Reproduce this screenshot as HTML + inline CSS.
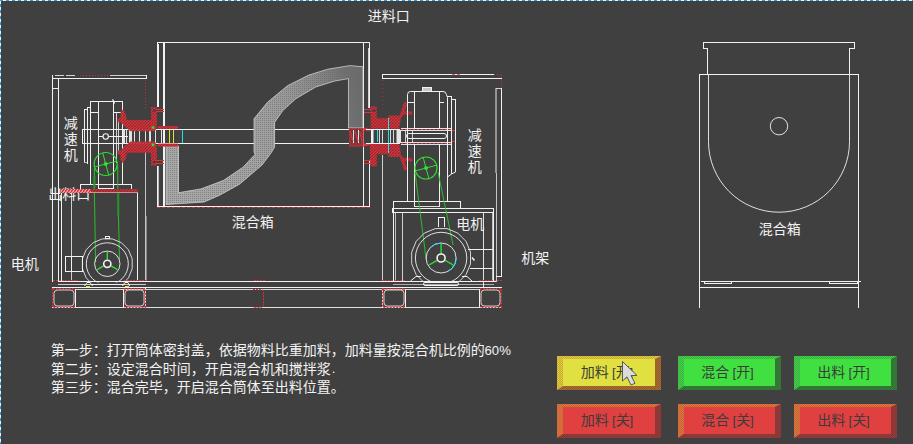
<!DOCTYPE html>
<html><head><meta charset="utf-8"><title>mixer</title>
<style>html,body{margin:0;padding:0;background:#404040;overflow:hidden;font-family:"Liberation Sans",sans-serif}svg{display:block}</style>
</head><body>
<svg width="913" height="444" viewBox="0 0 913 444">
<defs>
<clipPath id="mclip"><rect x="0" y="0" width="913" height="282.5"/></clipPath>
<pattern id="dot" width="2" height="2" patternUnits="userSpaceOnUse"><rect width="1" height="1" fill="#686868"/></pattern>
<pattern id="dot2" width="2" height="2" patternUnits="userSpaceOnUse"><rect width="2" height="2" fill="#909090"/><rect width="1" height="1" fill="#6c6c6c"/><rect x="1" y="1" width="1" height="1" fill="#6c6c6c"/></pattern>
<linearGradient id="bladeg" gradientUnits="userSpaceOnUse" x1="160" y1="150" x2="365" y2="110"><stop offset="0" stop-color="#a8a8a8"/><stop offset="0.45" stop-color="#a2a2a2"/><stop offset="0.63" stop-color="#9a9a9a"/><stop offset="0.78" stop-color="#8a8a8a"/><stop offset="0.88" stop-color="#7a7a7a"/><stop offset="0.94" stop-color="#707070"/><stop offset="1" stop-color="#6c6c6c"/></linearGradient>
<pattern id="chk" width="2" height="2" patternUnits="userSpaceOnUse"><rect width="1" height="1" fill="#202020"/><rect x="1" y="1" width="1" height="1" fill="#202020"/></pattern>
<pattern id="rw2" width="3" height="4" patternUnits="userSpaceOnUse"><rect width="3" height="4" fill="#583838"/><path d="M-1 4L2 0M2 4L5 0" stroke="#e02830" stroke-width="1.5"/></pattern>
<pattern id="rw" width="3" height="4" patternUnits="userSpaceOnUse"><rect width="3" height="4" fill="#f0e0e0"/><path d="M-1 4L2 0M2 4L5 0" stroke="#e02830" stroke-width="1.7"/></pattern>
<pattern id="rh" width="3" height="3" patternUnits="userSpaceOnUse"><rect width="3" height="3" fill="#dc3038"/><path d="M0 3L3 0" stroke="#7a2a30" stroke-width="0.8"/><path d="M0 0L3 3" stroke="#7a2a30" stroke-width="0.5" stroke-opacity="0.5"/></pattern>
</defs>
<rect width="913" height="444" fill="#404040"/>
<path d="M0 0.5H913" stroke="#f6f0e8" stroke-width="1"/><path d="M0 0.5H913" stroke="#20a0e8" stroke-width="1" stroke-dasharray="3 3"/>
<path d="M0.5 1V444" stroke="#f6f0e8" stroke-width="1"/><path d="M0.5 4V444" stroke="#20a0e8" stroke-width="1" stroke-dasharray="3 3"/>
<g fill="none" shape-rendering="crispEdges">
<path d="M52.5 75V282" stroke="#f2f2f2" stroke-width="1"/>
<path d="M58.5 78V282" stroke="#f2f2f2" stroke-width="1"/>
<path d="M52 78.5H147" stroke="#f2f2f2" stroke-width="1"/>
<path d="M146.5 75V79" stroke="#f2f2f2" stroke-width="1"/>
<path d="M55 75.5H75" stroke="#f2f2f2" stroke-width="1" stroke-opacity="0.85" stroke-dasharray="9 2"/>
<path d="M110 75.5H147" stroke="#f2f2f2" stroke-width="1" stroke-opacity="0.8"/>
<path d="M80 75.5H110" stroke="#e03038" stroke-width="1" stroke-opacity="0.85" stroke-dasharray="1 2"/>
<path d="M52 88.5H58" stroke="#f2f2f2" stroke-width="1"/>
<path d="M145.5 80V110" stroke="#e03038" stroke-width="1" stroke-opacity="0.8" stroke-dasharray="1 2"/>
<path d="M382 74.5H494" stroke="#f2f2f2" stroke-width="1"/>
<path d="M382 78.5H502" stroke="#f2f2f2" stroke-width="1"/>
<path d="M382.5 74V79" stroke="#f2f2f2" stroke-width="1"/>
<path d="M452 74.5H462" stroke="#e03038" stroke-width="1" stroke-opacity="0.7" stroke-dasharray="3 2"/>
<path d="M494 74.5H502" stroke="#e03038" stroke-width="1" stroke-opacity="0.8" stroke-dasharray="1 2"/>
<path d="M382.5 80V112" stroke="#e03038" stroke-width="1" stroke-opacity="0.6" stroke-dasharray="1 3"/>
<rect x="494.6" y="88" width="2.8" height="85" fill="#949494" stroke="none"/>
<path d="M496.5 173V282" stroke="#f2f2f2" stroke-width="1" stroke-opacity="0.75"/>
<path d="M501.5 88V277" stroke="#f2f2f2" stroke-width="1"/>
<path d="M496 88.5H502" stroke="#f2f2f2" stroke-width="1" stroke-opacity="0.8"/>
<path d="M501.5 75V88" stroke="#e03038" stroke-width="1" stroke-opacity="0.7" stroke-dasharray="1 1"/>
<path d="M58 281.5H496" stroke="#f2f2f2" stroke-width="1"/>
<path d="M52 287.5H502" stroke="#f2f2f2" stroke-width="1"/>
<path d="M76 289.5H479" stroke="#f2f2f2" stroke-width="1" stroke-opacity="0.85"/>
<path d="M58 284.5H146" stroke="#f2f2f2" stroke-width="1" stroke-opacity="0.8"/>
<path d="M393 284.5H494" stroke="#f2f2f2" stroke-width="1" stroke-opacity="0.6"/>
<path d="M52 307.5H502" stroke="#f2f2f2" stroke-width="1" stroke-opacity="0.9"/>
<path d="M145.5 152V282" stroke="#f2f2f2" stroke-width="1" stroke-opacity="0.75"/>
<path d="M146.5 216V282" stroke="#f2f2f2" stroke-width="1" stroke-opacity="0.4"/>
<path d="M382.5 155V282" stroke="#f2f2f2" stroke-width="1" stroke-opacity="0.8"/>
<path d="M145.5 288V308" stroke="#f2f2f2" stroke-width="1"/>
<path d="M382.5 288V308" stroke="#f2f2f2" stroke-width="1"/>
<path d="M253 289.5H260.5Q263.5 289.5 263.5 292.5V304.5Q263.5 307.5 260.5 307.5H253" stroke="#e03038" stroke-dasharray="2 1" shape-rendering="auto"/>
<path d="M254 280.5H266" stroke="#e03038" stroke-width="1" stroke-opacity="0.9" stroke-dasharray="2 1"/>
<rect x="52.8" y="288.8" width="22.4" height="18.4" stroke="#e03038" stroke-width="1.7" stroke-dasharray="1.7 1.5" shape-rendering="auto"/>
<rect x="54" y="290" width="20" height="16" rx="3.5" stroke="#f2f2f2" stroke-opacity="0.8" shape-rendering="auto"/>
<rect x="123.8" y="288.8" width="21.4" height="18.4" stroke="#e03038" stroke-width="1.7" stroke-dasharray="1.7 1.5" shape-rendering="auto"/>
<rect x="125" y="290" width="19" height="16" rx="3.5" stroke="#f2f2f2" stroke-opacity="0.8" shape-rendering="auto"/>
<rect x="382.8" y="288.8" width="22.4" height="18.4" stroke="#e03038" stroke-width="1.7" stroke-dasharray="1.7 1.5" shape-rendering="auto"/>
<rect x="384" y="290" width="20" height="16" rx="3.5" stroke="#f2f2f2" stroke-opacity="0.8" shape-rendering="auto"/>
<rect x="479.8" y="288.8" width="21.4" height="18.4" stroke="#e03038" stroke-width="1.7" stroke-dasharray="1.7 1.5" shape-rendering="auto"/>
<rect x="481" y="290" width="19" height="16" rx="3.5" stroke="#f2f2f2" stroke-opacity="0.8" shape-rendering="auto"/>
<path d="M157 42.5H370" stroke="#f2f2f2" stroke-width="1"/>
<path d="M157.5 42V107" stroke="#f2f2f2" stroke-width="1"/>
<path d="M158.5 44V107" stroke="#f2f2f2" stroke-width="1"/>
<path d="M163.5 43V207" stroke="#f2f2f2" stroke-width="1"/>
<path d="M164.5 43V207" stroke="#f2f2f2" stroke-width="1"/>
<path d="M363.5 42V207" stroke="#f2f2f2" stroke-width="1"/>
<path d="M369.5 42V108" stroke="#f2f2f2" stroke-width="1"/>
<path d="M368.5 48V108" stroke="#f2f2f2" stroke-width="1" stroke-opacity="0.8"/>
<path d="M157.5 166V207" stroke="#f2f2f2" stroke-width="1"/>
<path d="M158.5 166V207" stroke="#f2f2f2" stroke-width="1" stroke-opacity="0.7"/>
<path d="M369.5 160V207" stroke="#f2f2f2" stroke-width="1"/>
<path d="M157 206.5H370" stroke="#f2f2f2" stroke-width="1"/>
<path d="M157 207.5H370" stroke="#e03038" stroke-width="1" stroke-opacity="0.9" stroke-dasharray="3 2"/>
<path d="M164 129.5H254" stroke="#f2f2f2" stroke-width="1"/>
<path d="M164 143.5H254" stroke="#f2f2f2" stroke-width="1"/>
<path d="M275 129.5H349" stroke="#f2f2f2" stroke-width="1"/>
<path d="M275 143.5H349" stroke="#f2f2f2" stroke-width="1"/>
</g>
<polygon points="166,146 178.5,146 178.5,192.7 201,188.9 223.4,180.5 242.7,167.5 255,154.5 254,152 254,118.8 267.5,102.3 287.6,85.7 308.8,75.1 327.7,69.2 350.2,65.6 363,66.8 363,128 348.5,128 348.5,78.6 334.8,81 315.9,86.9 295.8,98.7 282.8,110.6 274.6,122.4 274.6,147.2 271,153 262,165 239.5,184.2 220,195 204.2,202 166,204.5" fill="url(#bladeg)"/>
<polygon points="166,146 178.5,146 178.5,192.7 201,188.9 223.4,180.5 242.7,167.5 255,154.5 254,152 254,118.8 267.5,102.3 287.6,85.7 308.8,75.1 327.7,69.2 350.2,65.6 363,66.8 363,128 348.5,128 348.5,78.6 334.8,81 315.9,86.9 295.8,98.7 282.8,110.6 274.6,122.4 274.6,147.2 271,153 262,165 239.5,184.2 220,195 204.2,202 166,204.5" fill="url(#dot)" fill-opacity="0.6" stroke="#d8d8d8" stroke-width="0.9" stroke-opacity="0.8"/>
<g fill="none" shape-rendering="crispEdges">
<path d="M90.5 101V185" stroke="#f2f2f2" stroke-width="1"/>
<path d="M122.5 101V185" stroke="#f2f2f2" stroke-width="1"/>
<path d="M98.5 101V189" stroke="#f2f2f2" stroke-width="1"/>
<path d="M113.5 101V189" stroke="#f2f2f2" stroke-width="1"/>
<path d="M98 188.5H114" stroke="#f2f2f2" stroke-width="1"/>
<path d="M90 101.5H123" stroke="#f2f2f2" stroke-width="1"/>
<path d="M90 112.5H99" stroke="#f2f2f2" stroke-width="1"/>
<path d="M113 112.5H121" stroke="#f2f2f2" stroke-width="1"/>
<path d="M112.6 99.2L114.6 103.5" stroke="#f2f2f2" stroke-width="1.2" shape-rendering="auto"/>
<path d="M84.5 109V162" stroke="#f2f2f2" stroke-width="1"/>
<path d="M87.5 107V164" stroke="#f2f2f2" stroke-width="1"/>
<path d="M84 109.5H88" stroke="#f2f2f2" stroke-width="1"/>
<path d="M87 107.5H91" stroke="#f2f2f2" stroke-width="1"/>
<path d="M84 162.5H88" stroke="#f2f2f2" stroke-width="1" stroke-opacity="0.7"/>
<path d="M82.5 129V144" stroke="#f2f2f2" stroke-width="1"/>
<path d="M82 129.5H164" stroke="#f2f2f2" stroke-width="1"/>
<path d="M82 143.5H164" stroke="#f2f2f2" stroke-width="1"/>
<path d="M98 136.5H128" stroke="#f2f2f2" stroke-width="1"/>
<path d="M116.5 112V163" stroke="#f2f2f2" stroke-width="1" stroke-opacity="0.8"/>
<path d="M118.5 122V152" stroke="#f2f2f2" stroke-width="1" stroke-opacity="0.8"/>
<path d="M123.5 130V143" stroke="#f2f2f2" stroke-width="1" stroke-opacity="0.9"/>
<path d="M124.5 130V143" stroke="#f2f2f2" stroke-width="1" stroke-opacity="0.9"/>
<path d="M126.5 130V143" stroke="#f2f2f2" stroke-width="1" stroke-opacity="0.9"/>
<path d="M129.5 130V143" stroke="#f2f2f2" stroke-width="1" stroke-opacity="0.9"/>
<path d="M130.5 130V143" stroke="#f2f2f2" stroke-width="1" stroke-opacity="0.9"/>
<path d="M131.5 130V143" stroke="#f2f2f2" stroke-width="1" stroke-opacity="0.9"/>
<path d="M134.5 130V143" stroke="#f2f2f2" stroke-width="1" stroke-opacity="0.9"/>
<path d="M139.5 130V143" stroke="#f2f2f2" stroke-width="1" stroke-opacity="0.9"/>
<path d="M145.5 130V143" stroke="#f2f2f2" stroke-width="1" stroke-opacity="0.9"/>
<path d="M149.5 130V143" stroke="#f2f2f2" stroke-width="1" stroke-opacity="0.9"/>
<path d="M150.5 130V143" stroke="#f2f2f2" stroke-width="1" stroke-opacity="0.9"/>
<path d="M155.5 130V143" stroke="#f2f2f2" stroke-width="1" stroke-opacity="0.9"/>
<path d="M161.5 130V143" stroke="#f2f2f2" stroke-width="1" stroke-opacity="0.9"/>
<path d="M80 184.5H132" stroke="#f2f2f2" stroke-width="1"/>
<path d="M80.5 184V190" stroke="#f2f2f2" stroke-width="1"/>
<path d="M131.5 184V190" stroke="#f2f2f2" stroke-width="1"/>
</g>
<circle cx="105.7" cy="136.5" r="2.7" fill="#404040" stroke="#f2f2f2" stroke-width="1.1"/>
<polygon points="123.1,109 126.1,114.8 126.8,119.9 151.1,119.9 151.1,107 156.9,107 156.9,126.5 155,131.2 130.5,131.2 123.4,125.6 121,122 117.4,122 117.4,118.2 120.4,118.2 120.4,112.8" fill="url(#rh)" fill-opacity="0.95"/>
<polygon points="123.1,163.6 126.1,157.8 126.8,152.7 151.1,152.7 151.1,165.6 156.9,165.6 156.9,146.1 155,141.4 130.5,141.4 123.4,147.0 121,150.6 117.4,150.6 117.4,154.4 120.4,154.4 120.4,159.8" fill="url(#rh)" fill-opacity="0.95"/>
<rect x="158" y="126" width="20" height="3" fill="url(#rh)"/>
<rect x="158" y="143.6" width="20" height="3" fill="url(#rh)"/>
<g fill="none" shape-rendering="crispEdges">
<path d="M156 109.5H164" stroke="#e03038" stroke-width="1"/>
<path d="M156 111.5H164" stroke="#e03038" stroke-width="1"/>
<path d="M156 160.5H164" stroke="#e03038" stroke-width="1"/>
<path d="M156 163.5H164" stroke="#e03038" stroke-width="1"/>
</g>
<circle cx="153" cy="127.6" r="1.4" fill="#30e030"/><circle cx="153" cy="145" r="1.4" fill="#30e030"/>
<g fill="none" shape-rendering="crispEdges">
<path d="M169.5 130V143" stroke="#e8e020" stroke-width="1"/>
<path d="M173.5 130V143" stroke="#e8e020" stroke-width="1"/>
<path d="M182.5 130V143" stroke="#20e0e8" stroke-width="1"/>
</g>
<rect x="349" y="128" width="15" height="19" fill="url(#rh)" fill-opacity="0.7"/>
<rect x="351.5" y="130" width="9.5" height="12.5" fill="#404040" fill-opacity="0.7"/>
<path d="M364 127.5L370.5 129V131L364 130.5ZM364 146.5L370.5 145V143L364 143.5Z" fill="#e03038"/>
<g fill="none" shape-rendering="crispEdges">
<path d="M353.5 130V143" stroke="#f2f2f2" stroke-width="1" stroke-opacity="0.9"/>
<path d="M358.5 130V143" stroke="#f2f2f2" stroke-width="1" stroke-opacity="0.9"/>
<path d="M350 131L353 141M355 131L358 141M359.5 131L362 141" stroke="#e03038" stroke-width="1.2" shape-rendering="auto"/>
</g>
<rect x="371" y="130" width="2.5" height="13" fill="#f2f2f2"/><rect x="396.5" y="130" width="4.5" height="13" fill="#f2f2f2" fill-opacity="0.92"/>
<polygon points="370.6,106.4 376.7,106.4 376.7,118.3 388.4,118.3 388.4,115.5 399.7,115.5 400.8,112.5 403.8,102.8 405.4,101.8 406.9,103 406.6,106.4 404.6,111.2 412.3,111.4 412.3,114.6 403,114.8 401,118 399.7,125.6 399,128.8 370.6,128.8" fill="url(#rh)" fill-opacity="0.95"/>
<polygon points="370.6,166.2 376.7,166.2 376.7,154.3 388.4,154.3 388.4,157.1 399.7,157.1 400.8,160.1 403.8,169.8 405.4,170.8 406.9,169.6 406.6,166.2 404.6,161.4 412.3,161.2 412.3,158.0 403,157.8 401,154.6 399.7,147.0 399,143.8 370.6,143.8" fill="url(#rh)" fill-opacity="0.95"/>
<rect x="372.2" y="109.6" width="3.6" height="2" fill="#404040"/><rect x="152.8" y="109.6" width="3.4" height="2" fill="#404040"/>
<rect x="372.2" y="161" width="3.6" height="2" fill="#404040"/><rect x="152.8" y="161" width="3.4" height="2" fill="#404040"/>
<rect x="370.2" y="143" width="5.9" height="22" fill="url(#rh)"/>
<g fill="none" shape-rendering="crispEdges">
<path d="M364 109.5H371" stroke="#e03038" stroke-width="1"/>
<path d="M364 112.5H371" stroke="#e03038" stroke-width="1"/>
<path d="M364 160.5H371" stroke="#e03038" stroke-width="1"/>
<path d="M364 163.5H371" stroke="#e03038" stroke-width="1"/>
<path d="M377.5 130V142" stroke="#20e0e8" stroke-width="1"/>
<path d="M388.5 118V153" stroke="#20e0e8" stroke-width="1"/>
<path d="M379.5 130V143" stroke="#f2f2f2" stroke-width="1" stroke-opacity="0.85"/>
<path d="M382.5 130V143" stroke="#f2f2f2" stroke-width="1" stroke-opacity="0.85"/>
<path d="M390.5 130V143" stroke="#f2f2f2" stroke-width="1" stroke-opacity="0.85"/>
<path d="M393.5 130V143" stroke="#f2f2f2" stroke-width="1" stroke-opacity="0.85"/>
<path d="M366 129.5H400" stroke="#f2f2f2" stroke-width="1"/>
<path d="M366 143.5H400" stroke="#f2f2f2" stroke-width="1"/>
</g>
<g fill="none">
<path d="M407.5 201V94.5Q407.5 91.5 410.5 91.5H443Q446 91.5 446.4 94.5L447.5 97.5V201" stroke="#f2f2f2"/>
</g>
<g fill="none" shape-rendering="crispEdges">
<path d="M414.5 92V128" stroke="#f2f2f2" stroke-width="1"/>
<path d="M439.5 92V128" stroke="#f2f2f2" stroke-width="1"/>
<path d="M414 128.5H440" stroke="#f2f2f2" stroke-width="1"/>
<path d="M405.5 130V143" stroke="#f2f2f2" stroke-width="1" stroke-opacity="0.8"/>
<path d="M412.5 130V143" stroke="#f2f2f2" stroke-width="1" stroke-opacity="0.8"/>
<path d="M414.5 144V207" stroke="#f2f2f2" stroke-width="1"/>
<path d="M439.5 144V207" stroke="#f2f2f2" stroke-width="1"/>
<path d="M439 102.5H444" stroke="#f2f2f2" stroke-width="1"/>
<path d="M407 102.5H415" stroke="#f2f2f2" stroke-width="1"/>
<rect x="422.5" y="87.5" width="9" height="4" rx="1" stroke="#f2f2f2" fill="#c8c8c8"/>
<path d="M451.5 96V174" stroke="#f2f2f2" stroke-width="1"/>
<path d="M455.5 99V172" stroke="#f2f2f2" stroke-width="1"/>
<path d="M447 96.5H452" stroke="#f2f2f2" stroke-width="1"/>
<path d="M451 99.5H456" stroke="#f2f2f2" stroke-width="1"/>
<path d="M455.5 172L451.5 174L447.5 177" stroke="#f2f2f2" shape-rendering="auto"/>
<path d="M401 128.5H452" stroke="#f2f2f2" stroke-width="1" stroke-opacity="0.9"/>
<path d="M401 130.5H452" stroke="#f2f2f2" stroke-width="1" stroke-opacity="0.9"/>
<path d="M401 142.5H452" stroke="#f2f2f2" stroke-width="1" stroke-opacity="0.9"/>
<path d="M401 144.5H452" stroke="#f2f2f2" stroke-width="1" stroke-opacity="0.9"/>
<path d="M401 129.5H452" stroke="#e03038" stroke-width="1" stroke-dasharray="2 2"/>
<path d="M401 143.5H452" stroke="#e03038" stroke-width="1" stroke-dasharray="2 2"/>
<path d="M452 130.5H456" stroke="#e03038" stroke-width="1"/>
<path d="M452 141.5H456" stroke="#e03038" stroke-width="1"/>
<path d="M451.5 128V145" stroke="#f2f2f2" stroke-width="1"/>
<path d="M455.5 128V145" stroke="#f2f2f2" stroke-width="1"/>
</g>
<rect x="406.5" y="133.5" width="40" height="5" rx="2.5" fill="none" stroke="#f2f2f2"/>
<g fill="none" shape-rendering="crispEdges">
<path d="M393 201.5H461" stroke="#f2f2f2" stroke-width="1"/>
<path d="M393.5 201V209" stroke="#f2f2f2" stroke-width="1"/>
<path d="M460.5 201V209" stroke="#f2f2f2" stroke-width="1"/>
<path d="M392 208.5H494" stroke="#f2f2f2" stroke-width="1"/>
<path d="M392 212.5H494" stroke="#f2f2f2" stroke-width="1"/>
<path d="M392.5 208V213" stroke="#f2f2f2" stroke-width="1"/>
<path d="M414 206.5H440" stroke="#f2f2f2" stroke-width="1" stroke-opacity="0.9"/>
</g>
<circle cx="105.7" cy="164" r="11.5" fill="none" stroke="#30e030" stroke-width="1.1"/><line x1="105.7" y1="164" x2="116.81" y2="161.02" stroke="#30e030" stroke-width="1"/><line x1="105.7" y1="164" x2="108.68" y2="175.11" stroke="#30e030" stroke-width="1"/><line x1="105.7" y1="164" x2="94.59" y2="166.98" stroke="#30e030" stroke-width="1"/><line x1="105.7" y1="164" x2="102.72" y2="152.89" stroke="#30e030" stroke-width="1"/><circle cx="105.7" cy="164" r="2" fill="#30e030"/>
<circle cx="426" cy="168" r="11" fill="none" stroke="#30e030" stroke-width="1.1"/><line x1="426" y1="168" x2="436.63" y2="165.15" stroke="#30e030" stroke-width="1"/><line x1="426" y1="168" x2="428.85" y2="178.63" stroke="#30e030" stroke-width="1"/><line x1="426" y1="168" x2="415.37" y2="170.85" stroke="#30e030" stroke-width="1"/><line x1="426" y1="168" x2="423.15" y2="157.37" stroke="#30e030" stroke-width="1"/><circle cx="426" cy="168" r="2" fill="#30e030"/>
<g stroke="#2cc82c" stroke-opacity="0.85" stroke-width="1.1" fill="none"><path d="M94.4 165V193L95.6 262M117.6 165L117.9 193L119.5 259"/><path d="M415 172L426.1 259M438 172L453.1 245"/></g>
<path d="M94.4 176V189M118.2 193V215" stroke="#2c8c2c" stroke-width="2.4" stroke-opacity="0.8" fill="none"/>
<g fill="none" stroke="#f2f2f2" clip-path="url(#mclip)"><polygon points="132.2,268.8 128.4,277.9 121.4,284.9 112.3,288.7 102.3,288.7 93.2,284.9 86.2,277.9 82.4,268.8 82.4,258.8 86.2,249.7 93.2,242.7 102.3,238.9 112.3,238.9 121.4,242.7 128.4,249.7 132.2,258.8" stroke-opacity="0.85"/><circle cx="107.3" cy="263.8" r="21" stroke-opacity="0.9"/><circle cx="107.3" cy="263.8" r="12.7" stroke-opacity="0.9"/></g><line x1="107.30" y1="259.60" x2="107.30" y2="252.10" stroke="#30e030" stroke-width="1.4"/><line x1="103.66" y1="265.90" x2="97.17" y2="269.65" stroke="#30e030" stroke-width="1.4"/><line x1="110.94" y1="265.90" x2="117.43" y2="269.65" stroke="#30e030" stroke-width="1.4"/><circle cx="107.3" cy="263.8" r="3.6" fill="#404040" stroke="#f2f2f2" stroke-width="1.6"/>
<g fill="none" stroke="#f2f2f2" clip-path="url(#mclip)"><polygon points="470.5,263.9 466.0,274.7 457.8,282.9 447.0,287.4 435.2,287.4 424.4,282.9 416.2,274.7 411.7,263.9 411.7,252.1 416.2,241.3 424.4,233.1 435.2,228.6 447.0,228.6 457.8,233.1 466.0,241.3 470.5,252.1" stroke-opacity="0.85"/><circle cx="441.1" cy="258" r="25.7" stroke-opacity="0.9"/><circle cx="441.1" cy="258" r="15" stroke-opacity="0.9"/><path d="M430.6 247.3A15 15 0 0 1 441.1 243.0" stroke="#20e0e8"/><path d="M456.1 258.0A15 15 0 0 1 448.6 271.1" stroke="#20e0e8"/></g><line x1="441.10" y1="253.40" x2="441.10" y2="244.00" stroke="#30e030" stroke-width="1.4"/><line x1="437.12" y1="260.30" x2="428.98" y2="265.00" stroke="#30e030" stroke-width="1.4"/><line x1="445.08" y1="260.30" x2="453.22" y2="265.00" stroke="#30e030" stroke-width="1.4"/><circle cx="441.1" cy="258" r="3.9999999999999996" fill="#404040" stroke="#f2f2f2" stroke-width="1.6"/>
<g fill="none" shape-rendering="crispEdges">
<path d="M61.5 193V282" stroke="#f2f2f2" stroke-width="1"/>
<path d="M71.5 193V282" stroke="#f2f2f2" stroke-width="1" stroke-opacity="0.8"/>
<path d="M137.5 193V282" stroke="#f2f2f2" stroke-width="1"/>
<rect x="65.5" y="256.5" width="17" height="15" stroke="#f2f2f2"/>
<path d="M71.5 256V272" stroke="#f2f2f2" stroke-width="1"/>
<rect x="105.5" y="236.5" width="4" height="2" stroke="#f2f2f2"/>
<path d="M84.5 286L87 282.5H90L92.5 286M122.5 286L125 282.5H128L129.5 286" stroke="#f2f2f2" shape-rendering="auto"/>
<path d="M92 284.5H123" stroke="#f2f2f2" stroke-width="1"/>
<path d="M86 286.5H90" stroke="#e8e020" stroke-width="1"/>
<path d="M125 286.5H129" stroke="#e8e020" stroke-width="1"/>
<path d="M53 280.5H78" stroke="#e03038" stroke-width="1" stroke-dasharray="2 1"/>
<path d="M124 280.5H148" stroke="#e03038" stroke-width="1" stroke-dasharray="2 1"/>
<path d="M75.5 289V308" stroke="#f2f2f2" stroke-width="1"/>
<path d="M123.5 289V308" stroke="#f2f2f2" stroke-width="1"/>
<path d="M393.5 208V282" stroke="#f2f2f2" stroke-width="1"/>
<path d="M395.5 212V282" stroke="#f2f2f2" stroke-width="1" stroke-opacity="0.7"/>
<path d="M402.5 212V282" stroke="#f2f2f2" stroke-width="1" stroke-opacity="0.8"/>
<path d="M493.5 208V282" stroke="#f2f2f2" stroke-width="1"/>
<path d="M492.5 212V282" stroke="#f2f2f2" stroke-width="1" stroke-opacity="0.7"/>
<path d="M468 249.5H493" stroke="#f2f2f2" stroke-width="1"/>
<path d="M470 268.5H493" stroke="#f2f2f2" stroke-width="1"/>
<path d="M483.5 212V288" stroke="#f2f2f2" stroke-width="1" stroke-opacity="0.9"/>
<path d="M472 257.5L474.5 260.5" stroke="#f2f2f2" stroke-width="1.6" shape-rendering="auto"/>
<rect x="423.5" y="282.5" width="35" height="3" rx="1.5" stroke="#f2f2f2" shape-rendering="auto"/>
<path d="M410.5 281L416 276.5H421M472 281L467 276.5H462" stroke="#f2f2f2" shape-rendering="auto"/>
<path d="M382 280.5H406" stroke="#e03038" stroke-width="1" stroke-opacity="0.9" stroke-dasharray="2 1"/>
<path d="M479 280.5H503" stroke="#e03038" stroke-width="1" stroke-opacity="0.9" stroke-dasharray="2 1"/>
<path d="M405.5 289V308" stroke="#f2f2f2" stroke-width="1"/>
<path d="M479.5 289V308" stroke="#f2f2f2" stroke-width="1"/>
<path d="M496 276.5H502" stroke="#f2f2f2" stroke-width="1"/>
<path d="M438.5 227V217.5H444.5V227" stroke="#f2f2f2"/>
</g>
<g fill="none" shape-rendering="crispEdges">
<path d="M707.5 74V48.5H703.5V42.5H854.5V48.5H849.5V74" stroke="#f2f2f2"/>
<path d="M699 74.5H859" stroke="#f2f2f2" stroke-width="1"/>
<path d="M699.5 74V308" stroke="#f2f2f2" stroke-width="1"/>
<path d="M858.5 74V308" stroke="#f2f2f2" stroke-width="1"/>
<path d="M701 281.5H861" stroke="#f2f2f2" stroke-width="1"/>
<path d="M699 287.5H859" stroke="#f2f2f2" stroke-width="1"/>
<path d="M704.5 281V283.5H731.5V281M829.5 281V283.5H857.5V281" stroke="#f2f2f2"/>
</g>
<path d="M708.5 74V141.7A70.5 70.5 0 0 0 849.5 141.7V74" fill="none" stroke="#f2f2f2" stroke-opacity="0.9"/>
<circle cx="779" cy="126.2" r="8.7" fill="none" stroke="#f2f2f2" stroke-opacity="0.9"/>
<g fill="#f2f2f2" font-family="'Liberation Sans','Noto Sans CJK SC',sans-serif" font-size="14">
<text x="367.85" y="20.8" textLength="42" lengthAdjust="spacing">进料口</text>
<text x="63.85" y="127.8">减</text><text x="63.85" y="143.8">速</text><text x="63.85" y="159.8">机</text>
<text x="467.85" y="139.8">减</text><text x="467.85" y="155.8">速</text><text x="467.85" y="171.8">机</text>
<text x="48.15" y="198.6" textLength="42" lengthAdjust="spacing">出料口</text>
</g>
<rect x="61" y="189" width="30" height="4" fill="url(#rw)"/><rect x="91" y="189" width="47" height="4" fill="url(#rw2)"/><rect x="91" y="192" width="47" height="1" fill="#f0d0d0" fill-opacity="0.6"/>
<g fill="#f2f2f2" font-family="'Liberation Sans','Noto Sans CJK SC',sans-serif" font-size="14">
<text x="231.85" y="226.8" textLength="42" lengthAdjust="spacing">混合箱</text>
<text x="758.85" y="234.3" textLength="42" lengthAdjust="spacing">混合箱</text>
<text x="10.85" y="269.3" textLength="28" lengthAdjust="spacing">电机</text>
<text x="456.35" y="228.8" textLength="28" lengthAdjust="spacing">电机</text>
<text x="521.35" y="263.3" textLength="28" lengthAdjust="spacing">机架</text>
<text x="50.85" y="355" textLength="434" lengthAdjust="spacing">第一步：打开筒体密封盖，依据物料比重加料，加料量按混合机比例的</text>
<text x="484.55" y="354.71" font-size="13.16">60%</text>
<text x="50.85" y="373.5" textLength="280" lengthAdjust="spacing">第二步：设定混合时间，开启混合机和搅拌浆</text>
<text x="331.7" y="373.21" font-size="13.16">.</text>
<text x="50.85" y="392" textLength="294" lengthAdjust="spacing">第三步：混合完毕，开启混合筒体至出料位置。</text>
</g>
<rect x="557" y="356" width="104" height="34" fill="#e0e040"/><polygon points="557,356 661,356 655,359 563,359 563,386 557,390" fill="#e6c83c"/><polygon points="661,356 661,390 557,390 563,386 655,386 655,359" fill="#a86a30"/><polygon points="557,356 661,356 661,390 557,390 557,356 563,359 563,386 655,386 655,359 563,359" fill="url(#chk)" fill-opacity="0.16"/>
<g fill="#3c3c3c" font-family="'Liberation Sans','Noto Sans CJK SC',sans-serif" font-size="14"><text x="580.85" y="376.8" textLength="28" lengthAdjust="spacing">加料</text><text x="612" y="376.51" font-size="13.16">[</text><text x="615.85" y="376.8">开</text><text x="629.5" y="376.51" font-size="13.16">]</text></g>
<rect x="678" y="356" width="103" height="34" fill="#40e040"/><polygon points="678,356 781,356 775,359 684,359 684,386 678,390" fill="#42ce46"/><polygon points="781,356 781,390 678,390 684,386 775,386 775,359" fill="#367e38"/><polygon points="678,356 781,356 781,390 678,390 678,356 684,359 684,386 775,386 775,359 684,359" fill="url(#chk)" fill-opacity="0.16"/>
<g fill="#3c3c3c" font-family="'Liberation Sans','Noto Sans CJK SC',sans-serif" font-size="14"><text x="701.35" y="376.8" textLength="28" lengthAdjust="spacing">混合</text><text x="732.5" y="376.51" font-size="13.16">[</text><text x="736.35" y="376.8">开</text><text x="750" y="376.51" font-size="13.16">]</text></g>
<rect x="794" y="356" width="103" height="34" fill="#40e040"/><polygon points="794,356 897,356 891,359 800,359 800,386 794,390" fill="#42ce46"/><polygon points="897,356 897,390 794,390 800,386 891,386 891,359" fill="#367e38"/><polygon points="794,356 897,356 897,390 794,390 794,356 800,359 800,386 891,386 891,359 800,359" fill="url(#chk)" fill-opacity="0.16"/>
<g fill="#3c3c3c" font-family="'Liberation Sans','Noto Sans CJK SC',sans-serif" font-size="14"><text x="817.35" y="376.8" textLength="28" lengthAdjust="spacing">出料</text><text x="848.5" y="376.51" font-size="13.16">[</text><text x="852.35" y="376.8">开</text><text x="866" y="376.51" font-size="13.16">]</text></g>
<rect x="557" y="404" width="104" height="34" fill="#e04040"/><polygon points="557,404 661,404 655,407 563,407 563,434 557,438" fill="#e0743c"/><polygon points="661,404 661,438 557,438 563,434 655,434 655,407" fill="#963a3a"/><polygon points="557,404 661,404 661,438 557,438 557,404 563,407 563,434 655,434 655,407 563,407" fill="url(#chk)" fill-opacity="0.16"/>
<g fill="#3c3c3c" font-family="'Liberation Sans','Noto Sans CJK SC',sans-serif" font-size="14"><text x="580.85" y="424.8" textLength="28" lengthAdjust="spacing">加料</text><text x="612" y="424.51" font-size="13.16">[</text><text x="615.85" y="424.8">关</text><text x="629.5" y="424.51" font-size="13.16">]</text></g>
<rect x="678" y="404" width="103" height="34" fill="#e04040"/><polygon points="678,404 781,404 775,407 684,407 684,434 678,438" fill="#e0743c"/><polygon points="781,404 781,438 678,438 684,434 775,434 775,407" fill="#963a3a"/><polygon points="678,404 781,404 781,438 678,438 678,404 684,407 684,434 775,434 775,407 684,407" fill="url(#chk)" fill-opacity="0.16"/>
<g fill="#3c3c3c" font-family="'Liberation Sans','Noto Sans CJK SC',sans-serif" font-size="14"><text x="701.35" y="424.8" textLength="28" lengthAdjust="spacing">混合</text><text x="732.5" y="424.51" font-size="13.16">[</text><text x="736.35" y="424.8">关</text><text x="750" y="424.51" font-size="13.16">]</text></g>
<rect x="794" y="404" width="103" height="34" fill="#e04040"/><polygon points="794,404 897,404 891,407 800,407 800,434 794,438" fill="#e0743c"/><polygon points="897,404 897,438 794,438 800,434 891,434 891,407" fill="#963a3a"/><polygon points="794,404 897,404 897,438 794,438 794,404 800,407 800,434 891,434 891,407 800,407" fill="url(#chk)" fill-opacity="0.16"/>
<g fill="#3c3c3c" font-family="'Liberation Sans','Noto Sans CJK SC',sans-serif" font-size="14"><text x="817.35" y="424.8" textLength="28" lengthAdjust="spacing">出料</text><text x="848.5" y="424.51" font-size="13.16">[</text><text x="852.35" y="424.8">关</text><text x="866" y="424.51" font-size="13.16">]</text></g>
<path d="M622.5 361.5V381L627 376.8L631 385L635 383.3L631 375.5H637Z" fill="#dcdcdc" stroke="#585858" stroke-width="1" stroke-linejoin="round"/>
</svg>
</body></html>
